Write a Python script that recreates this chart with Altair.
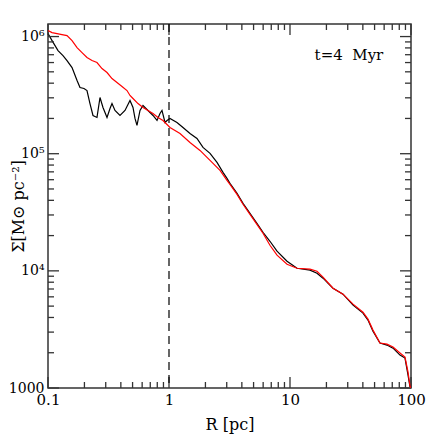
import altair as alt
import pandas as pd

# ---- data ----
black_r = [0.1, 0.108, 0.121, 0.133, 0.1436, 0.158, 0.1738, 0.1838, 0.1984, 0.210,
           0.2223, 0.2354, 0.254, 0.269, 0.2847, 0.3074, 0.3254, 0.338, 0.3578, 0.3936,
           0.4328, 0.476, 0.504, 0.5236, 0.5438, 0.576, 0.610, 0.6705, 0.7375, 0.796,
           0.8425, 0.875, 0.927, 0.963, 1.019, 1.164, 1.305, 1.491, 1.703, 1.910,
           2.183, 2.493, 2.795, 3.015, 3.19, 3.65, 4.09, 4.67, 5.33, 5.98,
           6.83, 7.81, 9.45, 11.43, 14.63, 16.71, 18.74, 22.67, 27.42, 33.2,
           40.1, 44.1, 48.5, 55.4, 63.3, 71.0, 81.1, 89.2, 94.5, 98.1]
black_s = [1.06e6, 9.24e5, 7.59e5, 6.88e5, 6.24e5, 5.44e5, 4.21e5, 3.67e5, 3.60e5, 3.46e5,
           2.68e5, 2.12e5, 2.04e5, 3.02e5, 2.48e5, 2.04e5, 2.43e5, 2.68e5, 2.34e5, 2.12e5,
           2.34e5, 2.85e5, 2.48e5, 2.0e5, 1.743e5, 2.34e5, 2.58e5, 2.34e5, 2.12e5, 1.922e5,
           2.205e5, 2.34e5, 1.848e5, 1.922e5, 2.0e5, 1.848e5, 1.675e5, 1.489e5, 1.35e5, 1.132e5,
           1.006e5, 8.43e4, 6.93e4, 6.16e4, 5.58e4, 4.59e4, 3.77e4, 3.10e4, 2.547e4, 2.135e4,
           1.789e4, 1.471e4, 1.208e4, 1.053e4, 1.013e4, 9.55e3, 8.66e3, 7.11e3, 6.32e3, 5.10e3,
           4.36e3, 3.80e3, 3.06e3, 2.42e3, 2.325e3, 2.19e3, 1.91e3, 1.80e3, 1.29e3, 1.02e3]

red_r = [0.1, 0.108, 0.1187, 0.1305, 0.1436, 0.158, 0.1738, 0.191, 0.210, 0.231,
         0.254, 0.2794, 0.3074, 0.338, 0.3717, 0.4089, 0.4497, 0.476, 0.504, 0.5543,
         0.610, 0.6705, 0.7375, 0.811, 0.892, 1.019, 1.233, 1.491, 1.804, 2.183,
         2.640, 3.015, 3.19, 3.65, 4.09, 4.67, 5.33, 5.98, 6.83, 7.81,
         9.45, 11.43, 14.63, 16.71, 18.74, 22.67, 27.42, 33.2, 40.1, 44.1,
         48.5, 55.4, 63.3, 71.0, 81.1, 89.2, 94.5, 98.1, 100]
red_s = [1.124e6, 1.081e6, 1.06e6, 1.039e6, 1.019e6, 9.24e5, 8.05e5, 7.30e5, 6.62e5, 6.24e5,
         6.0e5, 5.33e5, 4.93e5, 4.38e5, 4.05e5, 3.75e5, 3.46e5, 3.14e5, 2.96e5, 2.68e5,
         2.48e5, 2.34e5, 2.205e5, 2.04e5, 1.922e5, 1.675e5, 1.489e5, 1.248e5, 1.067e5, 8.77e4,
         7.21e4, 5.92e4, 5.47e4, 4.50e4, 3.70e4, 3.04e4, 2.497e4, 2.094e4, 1.654e4, 1.36e4,
         1.139e4, 1.053e4, 1.033e4, 9.93e3, 8.83e3, 7.11e3, 6.32e3, 5.20e3, 4.44e3, 3.87e3,
         3.12e3, 2.42e3, 2.37e3, 2.236e3, 1.99e3, 1.837e3, 1.369e3, 1.04e3, 1000]

x_major = [0.1, 1, 10, 100]
x_minor = [0.2, 0.3, 0.4, 0.5, 0.6, 0.7, 0.8, 0.9,
           2, 3, 4, 5, 6, 7, 8, 9,
           20, 30, 40, 50, 60, 70, 80, 90]
y_major = [1000, 1e4, 1e5, 1e6]
y_minor = [2000, 3000, 4000, 5000, 6000, 7000, 8000, 9000,
           2e4, 3e4, 4e4, 5e4, 6e4, 7e4, 8e4, 9e4,
           2e5, 3e5, 4e5, 5e5, 6e5, 7e5, 8e5, 9e5]

cut_r = [1.0]
annot_label = ["t=4\u00a0\u00a0Myr"]
annot_r = [30.7]
annot_s = [7.0e5]

x_title = "R [pc]"
y_title = "\u03a3[M\u2299 pc\u207b\u00b2]"

# ---- chart ----
W, H = 363, 364
FONT = "DejaVu Serif"
TICK = "#333333"
MAJ, MIN = 11, 6

df_black = pd.DataFrame({"R": black_r, "S": black_s})
df_red = pd.DataFrame({"R": red_r, "S": red_s})
df_cut = pd.DataFrame({"R": cut_r})
df_annot = pd.DataFrame({"R": annot_r, "S": annot_s, "label": annot_label})

xs = alt.Scale(type="log", domain=[0.1, 100], nice=False)
ys = alt.Scale(type="log", domain=[1000, 1.28e6], nice=False)

x_lab_axis = alt.Axis(
    orient="bottom", values=x_major,
    labelExpr="datum.value < 0.5 ? '0.1' : format(datum.value, 'd')",
    ticks=False, tickSize=0, domain=False, grid=False,
    labelFont=FONT, labelFontSize=15, labelColor="black", labelPadding=4,
    labelFlush=False, labelOverlap=False,
    title=x_title, titleFont=FONT, titleFontSize=16, titleFontWeight="normal",
    titleColor="black", titleY=36, titleBaseline="middle")

y_lab_axis = alt.Axis(
    orient="left", values=y_major,
    labelExpr="datum.value > 5e5 ? '10\u2076' : datum.value > 5e4 ? '10\u2075' : datum.value > 5e3 ? '10\u2074' : '1000'",
    ticks=False, tickSize=0, domain=False, grid=False,
    labelFont=FONT, labelFontSize=14, labelColor="black", labelPadding=4,
    labelFlush=False, labelOverlap=False, labelBaseline="middle",
    title=y_title, titleFont=FONT, titleFontSize=16, titleFontWeight="normal",
    titleColor="black", titleX=-30, titleY=H / 2, titleAngle=270,
    titleAlign="center", titleBaseline="middle")


def xticks(vals, y1, y2):
    return alt.Chart(pd.DataFrame({"v": vals})).mark_rule(
        color=TICK, strokeWidth=1.3).encode(
        x=alt.X("v:Q", scale=xs, axis=None), y=alt.value(y1), y2=alt.value(y2))


def yticks(vals, x1, x2):
    return alt.Chart(pd.DataFrame({"v": vals})).mark_rule(
        color=TICK, strokeWidth=1.3).encode(
        y=alt.Y("v:Q", scale=ys, axis=None), x=alt.value(x1), x2=alt.value(x2))


tick_layers = [
    xticks(x_major, H, H - MAJ), xticks(x_minor, H, H - MIN),
    xticks(x_major, 0, MAJ), xticks(x_minor, 0, MIN),
    yticks(y_major, 0, MAJ), yticks(y_minor, 0, MIN),
    yticks(y_major, W, W - MAJ), yticks(y_minor, W, W - MIN),
]

black = alt.Chart(df_black).mark_line(color="black", strokeWidth=1.2, clip=True).encode(
    x=alt.X("R:Q", scale=xs, axis=x_lab_axis),
    y=alt.Y("S:Q", scale=ys, axis=y_lab_axis),
    order="R:Q",
)

red = alt.Chart(df_red).mark_line(color="#ff0000", strokeWidth=1.2, clip=True).encode(
    x=alt.X("R:Q", scale=xs, axis=None),
    y=alt.Y("S:Q", scale=ys, axis=None),
    order="R:Q",
)

cut = alt.Chart(df_cut).mark_rule(color="black", strokeDash=[8, 5], strokeWidth=1.2).encode(
    x=alt.X("R:Q", scale=xs, axis=None),
)

annot = alt.Chart(df_annot).mark_text(font=FONT, fontSize=15, align="center",
                                      baseline="middle", color="black").encode(
    x=alt.X("R:Q", scale=xs, axis=None),
    y=alt.Y("S:Q", scale=ys, axis=None),
    text="label:N",
)

chart = alt.layer(black, *tick_layers, cut, annot, red).resolve_axis(
    x="independent", y="independent"
).properties(
    width=W, height=H,
    autosize=alt.AutoSizeParams(type="none"),
    padding={"left": 40, "top": 16, "right": 17, "bottom": 48},
    background="white",
).configure_view(stroke=TICK, strokeWidth=1.5)

chart.save("out.html", embed_options={"renderer": "svg", "actions": False})
